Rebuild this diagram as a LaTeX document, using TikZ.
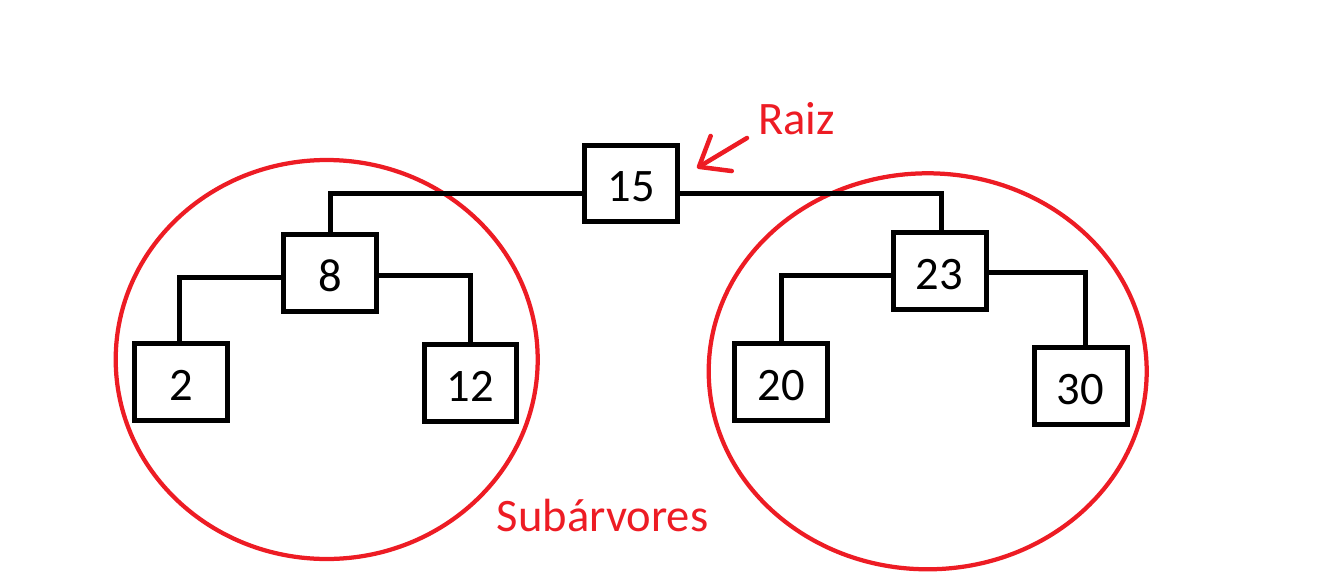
\documentclass[tikz,border=0pt]{standalone}
\usepackage{fontspec}
\setmainfont{Carlito}
\usetikzlibrary{calc,arrows.meta}
\definecolor{mred}{RGB}{237,28,36}
\begin{document}
\begin{tikzpicture}[x=0.02cm,y=-0.02cm,
  keybox/.style={draw=black,line width=0.1cm,minimum width=1.86cm,minimum height=1.54cm,
    inner sep=0pt,text height=0.72cm,text depth=0pt,font=\fontsize{26.5}{30}\selectfont},
  link/.style={draw=black,line width=0.1cm},
  subtree/.style={draw=mred,line width=0.085cm},
  redtext/.style={text=mred,font=\fontsize{26.5}{30}\selectfont,inner sep=0pt},
  pointer/.style={draw=mred,line width=0.09cm,line cap=round,
    -{Straight Barb[length=0.52cm,width=0.82cm,line cap=round,line join=round]}}]
\useasboundingbox (0,0) rectangle (1325,585);

% subtree outlines
\draw[subtree] (326.7,359.5) ellipse [x radius=211, y radius=199.5];
\draw[subtree] (927.7,371.3) ellipse [x radius=219, y radius=198];

% keys
\node[keybox] (n15) at (631.4,183.5) {15};
\node[keybox] (n8)  at (330.3,273.3) {8};
\node[keybox] (n2)  at (181.4,382.2) {2};
\node[keybox] (n12) at (470.5,383.2) {12};
\node[keybox] (n23) at (939.5,271.2) {23};
\node[keybox] (n20) at (781.4,382.2) {20};
\node[keybox] (n30) at (1080.5,386.3) {30};

% parent-child links
\draw[link] ($(n15.west)+(0,10)$) -| (n8.north);
\draw[link] ($(n15.east)+(0,9.5)$) -| ($(n23.north)+(1.5,0)$);
\draw[link] ($(n8.west)+(0,4)$) -| ($(n2.north)+(-2.4,0)$);
\draw[link] ($(n8.east)+(0,2)$) -| (n12.north);
\draw[link] ($(n23.west)+(0,4)$) -| (n20.north);
\draw[link] ($(n23.east)+(0,1.5)$) -| ($(n30.north)+(5,0)$);

% labels
\node[redtext,anchor=base] (raiz) at (796.5,134.3) {Raiz};
\node[redtext,anchor=base] (sub) at (602.5,531) {Subárvores};

\coordinate (tail) at (747,138);
\coordinate (tip) at (697,168);
\draw[pointer] (tail) -- (tip);
\end{tikzpicture}
\end{document}
